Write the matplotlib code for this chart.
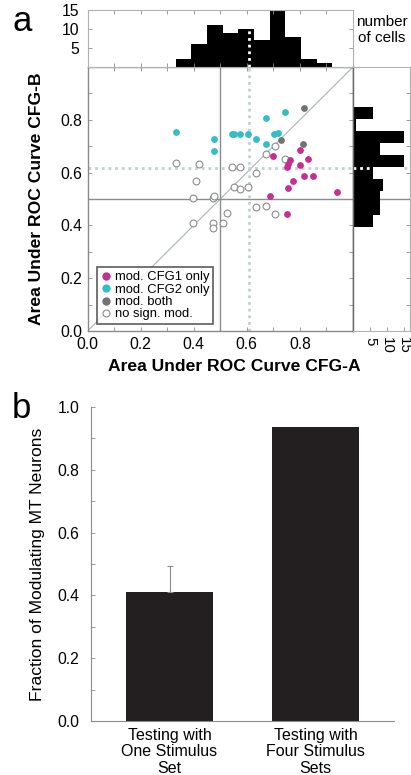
import numpy as np
import matplotlib
matplotlib.use("Agg")
import matplotlib.pyplot as plt
from matplotlib.lines import Line2D

plt.rcParams['font.family'] = ['Liberation Sans', 'DejaVu Sans']

# ---- panel a: scatter data (AUC CFG-A, AUC CFG-B) ----
cfg1_x = [0.699, 0.800, 0.832, 0.762, 0.757, 0.752, 0.802, 0.815, 0.850, 0.774, 0.755, 0.938, 0.687, 0.751]
cfg1_y = [0.664, 0.684, 0.653, 0.648, 0.633, 0.620, 0.630, 0.586, 0.586, 0.567, 0.543, 0.526, 0.512, 0.444]

cfg2_x = [0.333, 0.476, 0.476, 0.544, 0.553, 0.574, 0.605, 0.634, 0.674, 0.674, 0.704, 0.719, 0.744]
cfg2_y = [0.755, 0.726, 0.682, 0.746, 0.748, 0.746, 0.748, 0.726, 0.806, 0.708, 0.746, 0.751, 0.828]

both_x = [0.815, 0.730, 0.812]
both_y = [0.845, 0.725, 0.708]

none_x = [0.333, 0.419, 0.410, 0.398, 0.474, 0.477, 0.398, 0.474, 0.474, 0.509, 0.524, 0.544,
          0.574, 0.634, 0.552, 0.574, 0.605, 0.634, 0.674, 0.707, 0.674, 0.707, 0.744]
none_y = [0.635, 0.631, 0.570, 0.503, 0.503, 0.512, 0.409, 0.409, 0.391, 0.409, 0.446, 0.620,
          0.620, 0.599, 0.545, 0.538, 0.546, 0.471, 0.475, 0.444, 0.669, 0.701, 0.652]

median_a = 0.61
median_b = 0.617

# marginal histograms
top_edges = [0.332, 0.391, 0.450, 0.509, 0.568, 0.627, 0.686, 0.745, 0.804, 0.863, 0.922]
top_counts = [2, 6, 11, 9, 10, 7, 15, 8, 2, 1]

right_edges = [0.394, 0.4395, 0.485, 0.5305, 0.576, 0.6215, 0.667, 0.7125, 0.758, 0.8035, 0.849]
right_counts = [6, 8, 8, 9, 6, 15, 8, 15, 1, 6]

# ---- panel b: bar data ----
bar_labels = ['Testing with\nOne Stimulus\nSet', 'Testing with\nFour Stimulus\nSets']
bar_values = [0.41, 0.935]
bar_err_up = [0.085, 0.0]

magenta = '#c3308e'
cyan = '#33bec3'
darkgray = '#727272'
opengray = '#8c8c8c'
dotcol = '#c3d0d3'
spinecol = '#8a8a8a'

fig = plt.figure(figsize=(4.11, 7.75), dpi=100)

W, H = 411.0, 775.0
def box(l, t, r, b):
    return [l / W, 1 - b / H, (r - l) / W, (b - t) / H]

ax = fig.add_axes(box(87.5, 67, 353, 331))
axt = fig.add_axes(box(87.5, 10, 353, 67))
axr = fig.add_axes(box(353, 67, 410, 331))
axb = fig.add_axes(box(90.7, 407, 394.3, 721))

# scatter
ax.plot([0, 1], [0, 1], color='#aab4b8', lw=0.8, zorder=1)
ax.axvline(0.5, color='#8c8c8c', lw=1.0, zorder=1)
ax.axhline(0.5, color='#8c8c8c', lw=1.0, zorder=1)
ax.axvline(median_a, color=dotcol, lw=2.0, ls=(0, (1, 1.4)), zorder=1)
ax.axhline(median_b, color=dotcol, lw=2.0, ls=(0, (1, 1.4)), zorder=1)

ms = 24
ax.scatter(none_x, none_y, s=ms, facecolors='white', edgecolors=opengray, linewidths=0.8, zorder=2)
ax.scatter(cfg1_x, cfg1_y, s=ms, color=magenta, linewidths=0, zorder=3)
ax.scatter(cfg2_x, cfg2_y, s=ms, color=cyan, linewidths=0, zorder=3)
ax.scatter(both_x, both_y, s=ms, color=darkgray, linewidths=0, zorder=3)

ax.set_xlim(0, 1)
ax.set_ylim(0, 1)
ticks = np.arange(0, 1.01, 0.1)
tlabels = ['%.1f' % t if i % 2 == 0 and t < 0.95 else '' for i, t in enumerate(ticks)]
ax.set_xticks(ticks)
ax.set_xticklabels(tlabels)
ax.set_yticks(ticks)
ax.set_yticklabels(tlabels)
ax.tick_params(direction='in', length=3, width=0.6, color=spinecol, labelsize=11.3,
               top=True, right=True, pad=4)
for s in ax.spines.values():
    s.set_color(spinecol)
    s.set_linewidth(1.0)
ax.spines['right'].set_color('#666666')
ax.set_xlabel('Area Under ROC Curve CFG-A', fontsize=12.6, fontweight='bold')
ax.set_ylabel('Area Under ROC Curve CFG-B', fontsize=12.6, fontweight='bold')
ax.xaxis.set_label_coords((234 - 87.5) / 265.5, -0.105)
ax.yaxis.set_label_coords(-0.165, 0.5)

handles = [
    Line2D([], [], ls='', marker='o', ms=5, mfc=magenta, mec=magenta),
    Line2D([], [], ls='', marker='o', ms=5, mfc=cyan, mec=cyan),
    Line2D([], [], ls='', marker='o', ms=5, mfc=darkgray, mec=darkgray),
    Line2D([], [], ls='', marker='o', ms=5, mfc='white', mec=opengray, mew=0.8),
]
leg = ax.legend(handles, ['mod. CFG1 only', 'mod. CFG2 only', 'mod. both', 'no sign. mod.'],
                loc='lower left', bbox_to_anchor=(0.035, 0.025), borderaxespad=0,
                fontsize=9.4, frameon=True, fancybox=False, handlelength=0.8,
                handletextpad=0.3, labelspacing=0.02, borderpad=0.3)
leg.get_frame().set_edgecolor('#333333')
leg.get_frame().set_linewidth(1.2)

# top histogram
axt.stairs(top_counts, top_edges, fill=True, color='black')
axt.plot([median_a, median_a], [0, 10], color='white', lw=2.0, ls=(0, (1, 1.4)))
axt.set_xlim(0, 1)
axt.set_ylim(0, 15)
axt.set_xticks(ticks)
axt.set_xticklabels([])
axt.set_yticks([5, 10, 15])
axt.tick_params(direction='in', length=3, width=0.6, color=spinecol, labelsize=11.3,
                top=True, right=True, pad=6)
for s in axt.spines.values():
    s.set_color('#b0b0b0')
    s.set_linewidth(0.8)
fig.text(382 / W, 1 - 30 / H, 'number\nof cells', fontsize=11, ha='center', va='center',
         linespacing=1.25)

# right histogram
axr.stairs(right_counts, right_edges, fill=True, color='black', orientation='horizontal')
axr.plot([0, 15], [median_b, median_b], color='white', lw=2.0, ls=(0, (1, 1.4)))
axr.plot([15, 16.9], [median_b, median_b], color=dotcol, lw=2.0, ls=(0, (1, 1.4)))
axr.axhline(0.5, color='#8c8c8c', lw=1.0, zorder=0)
axr.set_ylim(0, 1)
axr.set_xlim(0, 16.9)
axr.set_yticks(ticks)
axr.set_yticklabels([])
axr.set_xticks([5, 10, 15])
axr.set_xticklabels(['5', '10', '15'], rotation=-90)
axr.tick_params(direction='in', length=3, width=0.6, color=spinecol, labelsize=10.8,
                right=True, left=False, pad=4)
for s in axr.spines.values():
    s.set_color('#b0b0b0')
    s.set_linewidth(0.8)
axr.spines['left'].set_color('#666666')
axr.spines['left'].set_linewidth(1.0)

# panel b
x = np.arange(len(bar_values))
axb.bar(x, bar_values, width=0.6, color='#231f20', zorder=2)
axb.errorbar(x[:1], bar_values[:1], yerr=[[0], bar_err_up[:1]], fmt='none',
             ecolor='#8c8c8c', elinewidth=0.8, capsize=2, capthick=0.8, zorder=3)
axb.set_xlim(-0.54, 1.54)
axb.set_ylim(0, 1.0)
axb.set_xticks(x)
axb.set_xticklabels(bar_labels, fontsize=11.5, linespacing=1.12)
axb.set_yticks(ticks)
axb.set_yticklabels(tlabels[:-1] + ['1.0'])
axb.tick_params(axis='y', direction='in', length=3, width=0.6, color=spinecol, labelsize=11.3, pad=8)
axb.tick_params(axis='x', length=0, pad=5)
axb.spines['top'].set_visible(False)
axb.spines['right'].set_visible(False)
axb.spines['left'].set_color(spinecol)
axb.spines['bottom'].set_color(spinecol)
axb.spines['left'].set_linewidth(0.8)
axb.spines['bottom'].set_linewidth(0.8)
axb.set_ylabel('Fraction of Modulating MT Neurons', fontsize=12.6)
axb.yaxis.set_label_coords(-0.15, 0.5)

fig.text(12 / W, 1 - 31 / H, 'a', fontsize=25, ha='left', va='baseline')
fig.text(12 / W, 1 - 418 / H, 'b', fontsize=25, ha='left', va='baseline')

fig.savefig('out.png', dpi=100)
